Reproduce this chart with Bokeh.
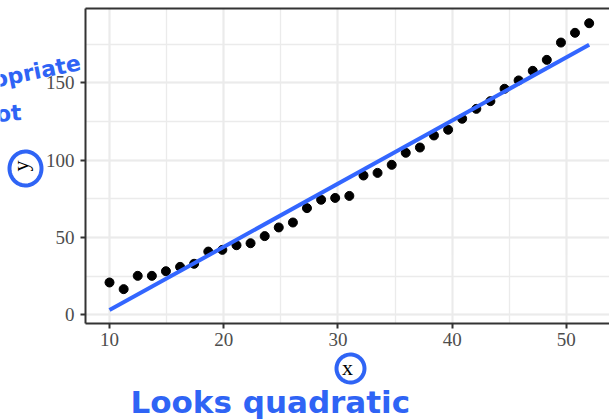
import numpy as np
from bokeh.plotting import figure
from bokeh.models import (Range1d, SingleIntervalTicker, FixedTicker, LinearAxis,
                          Grid, Label, PolyAnnotation)
from bokeh.embed import file_html
from bokeh.resources import INLINE

# ---- data ----
x_vals = [10.0, 11.24, 12.47, 13.71, 14.94, 16.18, 17.41, 18.65, 19.88, 21.12,
          22.35, 23.59, 24.82, 26.06, 27.29, 28.53, 29.76, 31.0, 32.24, 33.47,
          34.71, 35.94, 37.18, 38.41, 39.65, 40.88, 42.12, 43.35, 44.59, 45.82,
          47.06, 48.29, 49.53, 50.76, 52.0]
y_vals = [20.9, 16.6, 25.2, 25.2, 28.2, 31.0, 33.0, 40.9, 42.0, 45.0,
          46.3, 50.9, 56.5, 59.7, 69.0, 74.4, 75.6, 76.9, 90.1, 91.8,
          97.0, 104.8, 108.2, 116.0, 119.7, 126.8, 133.2, 138.2, 146.2, 151.6,
          157.8, 164.9, 176.1, 182.4, 188.6]
x_tick_step = 10
y_tick_step = 50
notes = ["appropriate", "not", "Looks quadratic"]

# panel limits (data units) and the wider canvas view
panel_x = (7.9, 53.78)
panel_y = (-5.63, 198.1)
view_x = (0.455, 53.78)
view_y = (-68.37, 203.3)

INK = "#2F64F5"
SERIF = "Liberation Serif"

p = figure(width=609, height=420, output_backend="svg", toolbar_location=None,
           x_range=Range1d(*view_x), y_range=Range1d(*view_y),
           x_axis_type=None, y_axis_type=None, min_border=0)
p.outline_line_color = None
p.background_fill_color = "white"
p.border_fill_color = "white"

xt = SingleIntervalTicker(interval=x_tick_step, num_minor_ticks=2)
yt = SingleIntervalTicker(interval=y_tick_step, num_minor_ticks=2)

for dim, tk, cb in ((0, xt, panel_y), (1, yt, panel_x)):
    g = Grid(dimension=dim, ticker=tk, cross_bounds=cb,
             bounds=panel_x if dim == 0 else panel_y,
             grid_line_color="#EBEBEB", grid_line_width=2,
             minor_grid_line_color="#EBEBEB", minor_grid_line_width=1.3)
    p.add_layout(g)

def style(ax):
    ax.axis_line_color = "#333333"
    ax.axis_line_width = 2
    ax.major_tick_line_color = "#333333"
    ax.major_tick_line_width = 2
    ax.major_tick_out = 5
    ax.major_tick_in = 0
    ax.minor_tick_line_color = None
    ax.major_label_text_font = SERIF
    ax.major_label_text_font_size = "19px"
    ax.major_label_text_color = "#4D4D4D"
    ax.axis_label_text_font = SERIF
    ax.axis_label_text_font_size = "22px"
    ax.axis_label_text_font_style = "normal"
    ax.axis_label_text_color = "black"

xaxis = LinearAxis(ticker=xt, fixed_location=panel_y[0], bounds=panel_x,
                   axis_label="x", major_label_standoff=4, axis_label_standoff=6)
yaxis = LinearAxis(ticker=yt, fixed_location=panel_x[0], bounds=panel_y,
                   axis_label="y", major_label_standoff=6, axis_label_standoff=10)
style(xaxis)
style(yaxis)
p.add_layout(xaxis, "below")
p.add_layout(yaxis, "left")

top = LinearAxis(ticker=FixedTicker(ticks=[]), fixed_location=panel_y[1], bounds=panel_x,
                 axis_line_color="#333333", axis_line_width=2,
                 major_tick_out=0, major_tick_in=0, minor_tick_out=0, minor_tick_in=0,
                 major_label_text_font_size="0px")
p.add_layout(top, "above")

# points and least-squares line
p.scatter(x_vals, y_vals, size=9, color="black")
slope, intercept = np.polyfit(x_vals, y_vals, 1)
lx = [min(x_vals), max(x_vals)]
ly = [slope * v + intercept for v in lx]
p.line(lx, ly, line_color="#3366FF", line_width=4)

# handwritten notes
p.add_layout(Label(x=80, y=62, x_units="canvas", y_units="canvas", text=notes[0],
                   text_align="right", text_baseline="middle", angle=0.2,
                   text_font="DejaVu Sans", text_font_style="bold",
                   text_font_size="22px", text_color=INK))
p.add_layout(Label(x=21, y=112, x_units="canvas", y_units="canvas", text=notes[1],
                   text_align="right", text_baseline="middle", angle=0.08,
                   text_font="DejaVu Sans", text_font_style="bold",
                   text_font_size="22px", text_color=INK))
p.add_layout(Label(x=130, y=401, x_units="canvas", y_units="canvas", text=notes[2],
                   text_align="left", text_baseline="middle",
                   text_font="DejaVu Sans", text_font_style="bold",
                   text_font_size="31px", text_color=INK))

t = np.linspace(0, 2 * np.pi, 60)
for cx, cy, rx, ry in [(25, 168, 16, 17), (350, 368, 14, 14)]:
    p.add_layout(PolyAnnotation(xs=list(cx + rx * np.cos(t)), ys=list(cy + ry * np.sin(t)),
                                xs_units="canvas", ys_units="canvas",
                                fill_alpha=0, line_color=INK, line_alpha=1.0,
                                line_width=4))

open("out.html", "w").write(file_html(p, INLINE))
